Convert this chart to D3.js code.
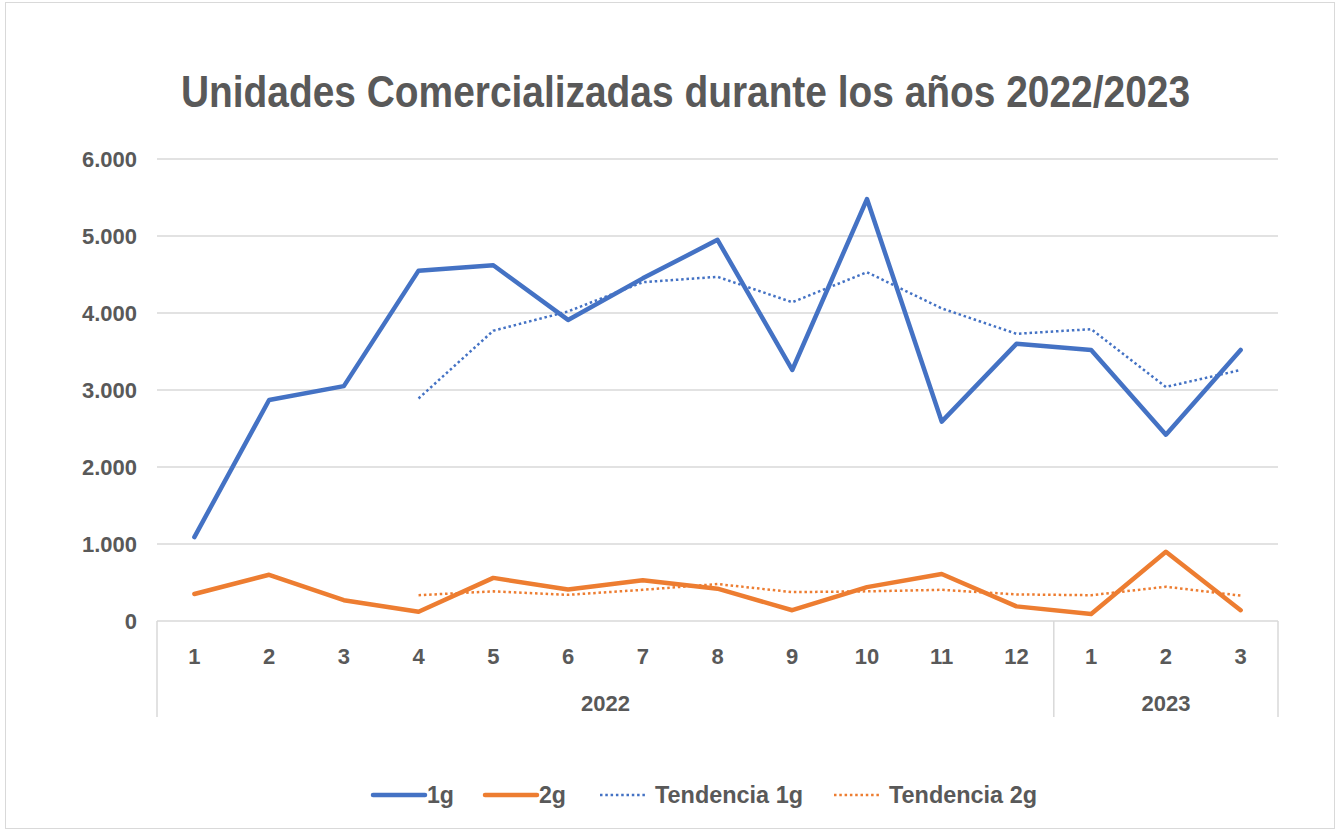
<!DOCTYPE html>
<html><head><meta charset="utf-8">
<script src="https://cdn.jsdelivr.net/npm/d3@7"></script>
<style>body{margin:0;background:#fff}svg{display:block}text{font-family:"Liberation Sans",Arial,sans-serif;font-weight:bold;fill:#595959}</style>
</head><body>
<svg id="c" width="1340" height="832"></svg>
<script>
const months = ["1","2","3","4","5","6","7","8","9","10","11","12","1","2","3"];
const years = [{label:"2022", start:0, end:12},{label:"2023", start:12, end:15}];
const s1g = [1090,2870,3050,4550,4620,3910,4450,4950,3260,5480,2590,3600,3520,2420,3520];
const s2g = [350,600,270,120,560,410,530,420,140,440,610,190,90,900,140];
const trend1g = [null,null,null,2890,3770,4020,4400,4470,4140,4530,4060,3730,3790,3040,3260];
const trend2g = [null,null,null,335,385,340,405,480,375,385,405,345,335,445,330];
const yTicks = [0,1000,2000,3000,4000,5000,6000];
const title = "Unidades Comercializadas durante los años 2022/2023";
const legendItems = [
  {label:"1g", color:"#4472C4", dotted:false},
  {label:"2g", color:"#ED7D31", dotted:false},
  {label:"Tendencia 1g", color:"#4472C4", dotted:true},
  {label:"Tendencia 2g", color:"#ED7D31", dotted:true}
];

const svg = d3.select("#c");
const L=157, R=1278, T=159, B=621;
const x = d3.scaleBand().domain(d3.range(months.length)).range([L,R]);
const y = d3.scaleLinear().domain([0,6000]).range([B,T]);
const fmt = v => d3.format(",")(v).replace(/,/g,".");

svg.append("rect").attr("x",5.5).attr("y",2.5).attr("width",1329).attr("height",826)
  .attr("fill","none").attr("stroke","#d9d9d9");

svg.append("text").attr("x",181).attr("y",107).attr("font-size",44)
  .attr("textLength",1009).attr("lengthAdjust","spacingAndGlyphs").text(title);

// grid
svg.append("g").selectAll("line").data(yTicks).join("line")
  .attr("x1",L).attr("x2",R).attr("y1",d=>y(d)).attr("y2",d=>y(d))
  .attr("stroke","#d9d9d9").attr("stroke-width",1.5);
svg.append("g").selectAll("text").data(yTicks).join("text")
  .attr("x",137).attr("y",d=>y(d)+8).attr("text-anchor","end").attr("font-size",22)
  .text(d=>fmt(d));

// category axis vertical lines
const seps = [0,12,15];
svg.append("g").selectAll("line").data(seps).join("line")
  .attr("x1",d=>d<months.length?x(d):R).attr("x2",d=>d<months.length?x(d):R)
  .attr("y1",B).attr("y2",717).attr("stroke","#d9d9d9").attr("stroke-width",1.5);
svg.append("g").selectAll("text").data(months).join("text")
  .attr("x",(d,i)=>x(i)+x.bandwidth()/2).attr("y",664).attr("text-anchor","middle")
  .attr("font-size",22).text(d=>d);
svg.append("g").selectAll("text").data(years).join("text")
  .attr("x",d=>(x(d.start)+(d.end<months.length?x(d.end):R))/2).attr("y",711)
  .attr("text-anchor","middle").attr("font-size",22).text(d=>d.label);

const line = d3.line().defined(d=>d!=null).x((d,i)=>x(i)+x.bandwidth()/2).y(d=>y(d));
function drawLine(data,color,dotted){
  svg.append("path").datum(data).attr("d",line).attr("fill","none")
    .attr("stroke",color).attr("stroke-width",dotted?2.5:4.5)
    .attr("stroke-linejoin","round").attr("stroke-linecap",dotted?"butt":"round")
    .attr("stroke-dasharray",dotted?"2.5,2.8":null);
}
drawLine(trend1g,"#4472C4",true);
drawLine(trend2g,"#ED7D31",true);
drawLine(s1g,"#4472C4",false);
drawLine(s2g,"#ED7D31",false);

// legend
const legX = [373,485,600,834];
const textW = [27,27,148,148];
const lg = svg.append("g");
legendItems.forEach((d,i)=>{
  const x0 = legX[i], w = d.dotted?47:52;
  lg.append("line").attr("x1",x0).attr("x2",x0+w).attr("y1",795).attr("y2",795)
    .attr("stroke",d.color).attr("stroke-width",d.dotted?2.5:4.5)
    .attr("stroke-linecap",d.dotted?"butt":"round")
    .attr("stroke-dasharray",d.dotted?"2.5,2.8":null);
  lg.append("text").attr("x",x0+w+(d.dotted?8:2)).attr("y",803).attr("font-size",23)
    .attr("textLength",textW[i]).attr("lengthAdjust","spacingAndGlyphs").text(d.label);
});
</script>
</body></html>
